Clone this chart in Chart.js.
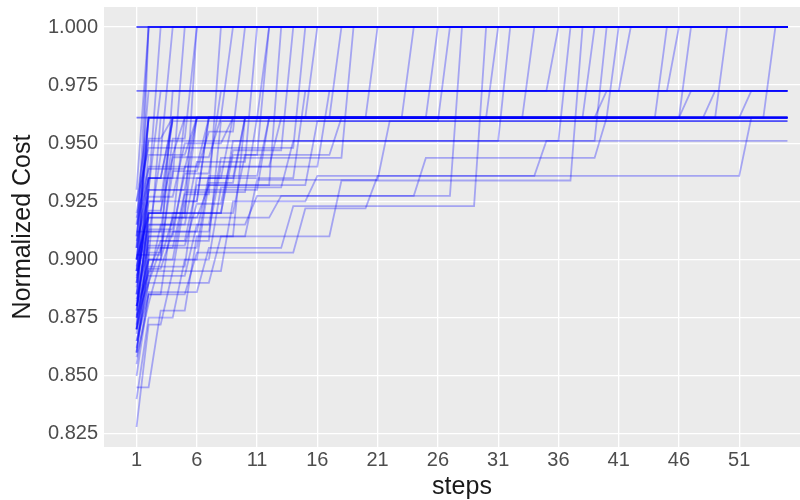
<!DOCTYPE html>
<html>
<head>
<meta charset="utf-8">
<script src="https://cdn.jsdelivr.net/npm/chart.js@4.4.1/dist/chart.umd.min.js"></script>
<style>
  html, body { margin: 0; padding: 0; background: #fff; overflow: hidden; }
  #wrap { width: 820px; height: 500px; }
</style>
</head>
<body>
<div id="wrap"><canvas id="costChart" width="820" height="500"></canvas></div>
<script>
// axis breaks
var stepTicks = [1, 6, 11, 16, 21, 26, 31, 36, 41, 46, 51];
var costTicks = [0.825, 0.850, 0.875, 0.900, 0.925, 0.950, 0.975, 1.000];

// runs grouped by the cost they finish on, points are [step, cost]
var runsTo1000 = [
  [[1,1.0],[55,1.0]],
  [[1,1.0],[55,1.0]],
  [[1,1.0],[55,1.0]],
  [[1,0.905],[2,1.0],[55,1.0]],
  [[1,0.87],[2,1.0],[55,1.0]],
  [[1,0.93],[2,1.0],[55,1.0]],
  [[1,0.885],[2,0.93],[3,1.0],[55,1.0]],
  [[1,0.86],[2,0.91],[3,0.945],[4,1.0],[55,1.0]],
  [[1,0.895],[2,0.935],[4,0.935],[5,1.0],[55,1.0]],
  [[1,0.878],[2,0.918],[5,0.918],[6,1.0],[55,1.0]],
  [[1,0.912],[3,0.912],[4,0.952],[5,0.952],[6,1.0],[55,1.0]],
  [[1,0.868],[2,0.9],[4,0.9],[5,0.928],[7,0.928],[8,1.0],[55,1.0]],
  [[1,0.89],[2,0.925],[6,0.925],[7,0.961],[8,0.961],[9,1.0],[55,1.0]],
  [[1,0.85],[2,0.885],[3,0.885],[4,0.92],[8,0.92],[9,0.945],[11,0.945],[12,1.0],[55,1.0]],
  [[1,0.9],[2,0.94],[6,0.94],[7,0.961],[11,0.961],[12,1.0],[55,1.0]],
  [[1,0.88],[3,0.908],[5,0.908],[6,0.932],[12,0.932],[13,1.0],[55,1.0]],
  [[1,0.925],[2,0.948],[14,0.948],[15,1.0],[55,1.0]],
  [[1,0.86],[2,0.897],[5,0.897],[6,0.935],[9,0.935],[10,0.961],[17,0.961],[18,1.0],[55,1.0]],
  [[1,0.895],[2,0.915],[7,0.915],[8,0.9437],[18,0.9437],[19,1.0],[55,1.0]],
  [[1,0.875],[3,0.905],[4,0.905],[5,0.929],[10,0.929],[11,0.961],[20,0.961],[21,1.0],[55,1.0]],
  [[1,0.91],[2,0.952],[3,0.952],[4,0.961],[23,0.961],[24,1.0],[55,1.0]],
  [[1,0.882],[2,0.91],[4,0.91],[5,0.94],[12,0.94],[13,0.961],[25,0.961],[26,1.0],[55,1.0]],
  [[1,0.9],[2,0.918],[6,0.918],[7,0.932],[15,0.932],[16,0.9595],[26,0.9595],[27,1.0],[55,1.0]],
  [[1,0.87],[2,0.893],[5,0.893],[6,0.915],[10,0.915],[11,0.9274],[27,0.9274],[28,1.0],[55,1.0]],
  [[1,0.855],[2,0.886],[6,0.886],[7,0.905],[13,0.905],[14,0.923],[29,0.923],[30,1.0],[55,1.0]],
  [[1,0.915],[2,0.935],[3,0.935],[4,0.961],[30,0.961],[31,1.0],[55,1.0]],
  [[1,0.892],[2,0.92],[8,0.92],[9,0.951],[31,0.951],[32,1.0],[55,1.0]],
  [[1,0.905],[2,0.961],[33,0.961],[34,1.0],[55,1.0]],
  [[1,0.885],[2,0.912],[7,0.912],[8,0.94],[16,0.94],[17,0.9725],[35,0.9725],[36,1.0],[55,1.0]],
  [[1,0.84],[2,0.875],[4,0.875],[5,0.9],[7,0.9],[8,0.931],[13,0.931],[14,0.951],[36,0.951],[37,1.0],[55,1.0]],
  [[1,0.865],[2,0.89],[7,0.89],[8,0.91],[17,0.91],[18,0.934],[37,0.934],[38,1.0],[55,1.0]],
  [[1,0.895],[2,0.93],[5,0.93],[6,0.961],[38,0.961],[39,1.0],[55,1.0]],
  [[1,0.92],[2,0.951],[39,0.951],[40,1.0],[55,1.0]],
  [[1,0.878],[2,0.92],[3,0.92],[4,0.961],[40,0.961],[41,1.0],[55,1.0]],
  [[1,0.902],[3,0.902],[4,0.9725],[41,0.9725],[42,1.0],[55,1.0]],
  [[1,0.89],[2,0.935],[8,0.935],[9,0.961],[44,0.961],[45,1.0],[55,1.0]],
  [[1,0.915],[2,0.9725],[45,0.9725],[46,1.0],[55,1.0]],
  [[1,0.88],[2,0.9],[3,0.9],[4,0.945],[5,0.945],[6,0.961],[46,0.961],[47,1.0],[55,1.0]],
  [[1,0.9],[2,0.961],[49,0.961],[50,1.0],[55,1.0]],
  [[1,0.925],[2,0.961],[53,0.961],[54,1.0],[55,1.0]],
  [[1,0.872],[2,0.903],[3,0.903],[4,0.938],[6,0.938],[7,0.955],[9,0.955],[10,1.0],[55,1.0]],
  [[1,0.862],[2,0.89],[3,0.915],[5,0.915],[6,0.942],[10,0.942],[11,1.0],[55,1.0]],
  [[1,0.908],[2,0.927],[4,0.927],[5,0.95],[8,0.95],[9,0.961],[15,0.961],[16,1.0],[55,1.0]],
  [[1,0.883],[2,0.906],[5,0.906],[6,0.924],[8,0.924],[9,0.947],[13,0.947],[14,1.0],[55,1.0]]
];
var runsTo0972 = [
  [[1,0.9725],[55,0.9725]],
  [[1,0.9725],[55,0.9725]],
  [[1,0.885],[2,0.93],[3,0.9725],[55,0.9725]],
  [[1,0.87],[2,0.905],[6,0.905],[7,0.935],[14,0.935],[15,0.9725],[55,0.9725]],
  [[1,0.9],[2,0.945],[4,0.945],[5,0.961],[39,0.961],[40,0.9725],[55,0.9725]],
  [[1,0.91],[2,0.961],[46,0.961],[47,0.9725],[55,0.9725]],
  [[1,0.888],[2,0.925],[3,0.925],[4,0.961],[48,0.961],[49,0.9725],[55,0.9725]],
  [[1,0.875],[2,0.92],[5,0.92],[6,0.961],[51,0.961],[52,0.9725],[55,0.9725]],
  [[1,0.893],[2,0.913],[4,0.913],[5,0.937],[7,0.937],[8,0.9725],[55,0.9725]]
];
var runsTo0961 = [
  [[1,0.961],[55,0.961]],
  [[1,0.961],[55,0.961]],
  [[1,0.895],[2,0.961],[55,0.961]],
  [[1,0.86],[2,0.9],[3,0.961],[55,0.961]],
  [[1,0.88],[2,0.915],[4,0.915],[5,0.961],[55,0.961]],
  [[1,0.87],[2,0.895],[4,0.895],[5,0.925],[6,0.925],[7,0.961],[55,0.961]],
  [[1,0.845],[2,0.845],[3,0.878],[5,0.878],[6,0.91],[9,0.91],[10,0.961],[55,0.961]],
  [[1,0.89],[2,0.93],[11,0.93],[12,0.961],[55,0.961]],
  [[1,0.9],[2,0.92],[9,0.92],[10,0.945],[17,0.945],[18,0.961],[55,0.961]],
  [[1,0.875],[2,0.9],[3,0.9],[4,0.918],[12,0.918],[13,0.9274],[24,0.9274],[25,0.9437],[39,0.9437],[40,0.961],[55,0.961]],
  [[1,0.865],[2,0.885],[5,0.885],[6,0.903],[14,0.903],[15,0.922],[20,0.922],[21,0.936],[51,0.936],[52,0.961],[55,0.961]],
  [[1,0.858],[2,0.881],[3,0.9],[6,0.9],[7,0.933],[9,0.933],[10,0.961],[55,0.961]],
  [[1,0.918],[2,0.939],[5,0.939],[6,0.961],[55,0.961]],
  [[1,0.897],[2,0.921],[3,0.921],[4,0.944],[7,0.944],[8,0.961],[55,0.961]],
  [[1,0.876],[2,0.896],[3,0.896],[4,0.912],[6,0.912],[7,0.936],[11,0.936],[12,0.961],[55,0.961]]
];
var runsTo0960 = [
  [[1,0.905],[2,0.935],[3,0.935],[4,0.9595],[55,0.9595]],
  [[1,0.88],[2,0.908],[7,0.908],[8,0.9595],[55,0.9595]],
  [[1,0.87],[2,0.91],[10,0.91],[11,0.9343],[21,0.9343],[22,0.9595],[55,0.9595]]
];
var runsTo0951 = [
  [[1,0.828],[2,0.872],[3,0.872],[4,0.895],[8,0.895],[9,0.925],[15,0.925],[16,0.936],[34,0.936],[35,0.951],[55,0.951]]
];

var allRuns = runsTo1000.concat(runsTo0972, runsTo0961, runsTo0960, runsTo0951);

var datasets = allRuns.map(function(run, i) {
  return {
    label: 'run ' + (i + 1),
    data: run.map(function(p) { return {x: p[0], y: p[1]}; }),
    borderColor: 'rgba(0,0,255,0.3)',
    borderWidth: 1.8,
    pointRadius: 0,
    tension: 0,
    fill: false
  };
});

// grey panel like ggplot
var panelBg = {
  id: 'panelBg',
  beforeDraw: function(chart) {
    var a = chart.chartArea, ctx = chart.ctx;
    ctx.save();
    ctx.fillStyle = '#EBEBEB';
    ctx.fillRect(a.left, a.top, a.right - a.left, a.bottom - a.top);
    ctx.restore();
  }
};

Chart.defaults.font.family = '"Liberation Sans", Arial, sans-serif';

new Chart(document.getElementById('costChart'), {
  type: 'line',
  data: { datasets: datasets },
  options: {
    responsive: false,
    animation: false,
    events: [],
    layout: { padding: { top: 7, right: 0, left: 0, bottom: 0 } },
    plugins: { legend: { display: false }, tooltip: { enabled: false } },
    scales: {
      x: {
        type: 'linear',
        min: -1.7,
        max: 57.7,
        afterBuildTicks: function(s) { s.ticks = stepTicks.map(function(v) { return {value: v}; }); },
        afterFit: function(s) { s.height = 53; s.paddingLeft = 0; s.paddingRight = 0; },
        ticks: { color: '#4d4d4d', font: { size: 20 }, padding: 1, maxRotation: 0, autoSkip: false },
        grid: { color: '#ffffff', lineWidth: 1.3, drawTicks: false },
        border: { display: false },
        title: { display: true, text: 'steps', color: '#1a1a1a', font: { size: 25, lineHeight: 1 }, padding: { bottom: 0, top: 0 } }
      },
      y: {
        type: 'linear',
        min: 0.8194,
        max: 1.0086,
        afterBuildTicks: function(s) { s.ticks = costTicks.map(function(v) { return {value: v}; }); },
        afterFit: function(s) { s.width = 104; s.paddingTop = 0; s.paddingBottom = 0; },
        ticks: { color: '#4d4d4d', font: { size: 20 }, padding: 6,
          callback: function(v) { return Number(v).toFixed(3); } },
        grid: { color: '#ffffff', lineWidth: 1.3, drawTicks: false },
        border: { display: false },
        title: { display: true, text: 'Normalized Cost', color: '#1a1a1a', font: { size: 25 }, padding: { top: 8, bottom: 0 } }
      }
    }
  },
  plugins: [panelBg]
});
</script>
</body>
</html>
